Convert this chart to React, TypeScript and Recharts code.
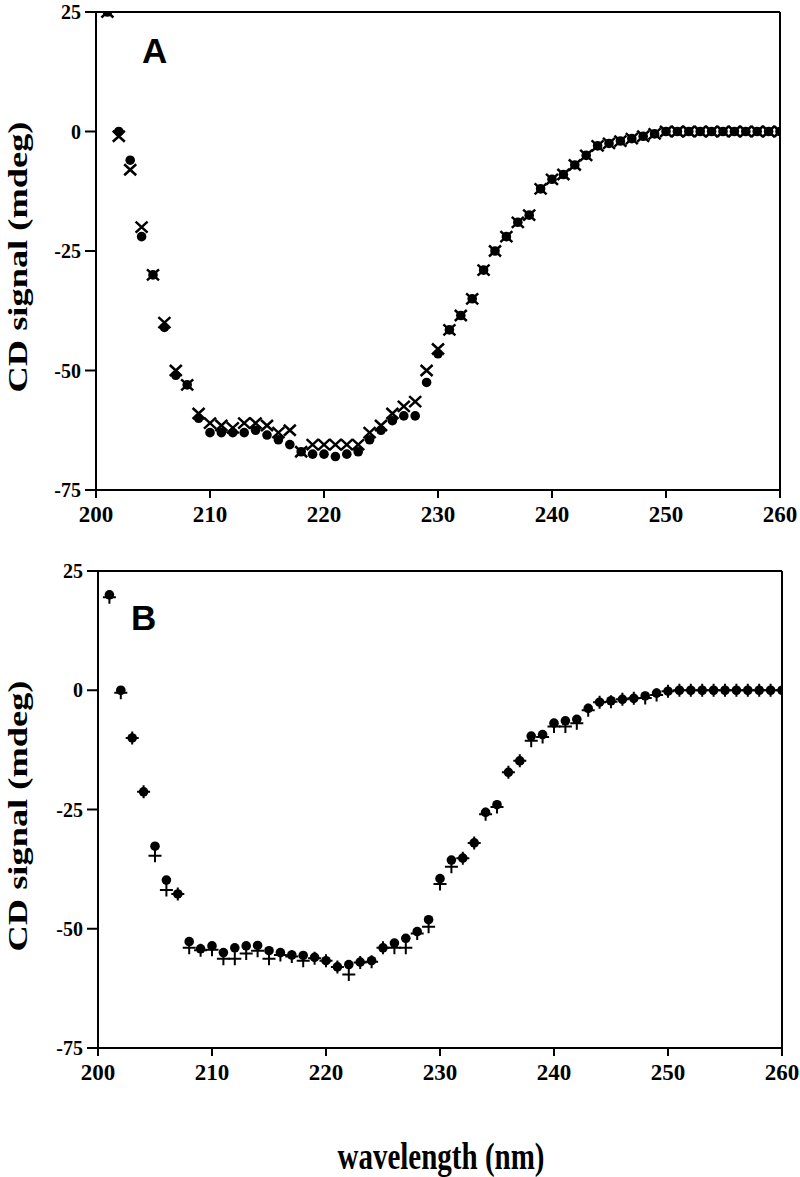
import { ScatterChart, Scatter, XAxis, YAxis, ReferenceLine } from "recharts";

// wavelength (nm) for every reading, both panels
const wavelengths = [
  201, 202, 203, 204, 205, 206, 207, 208, 209, 210,
  211, 212, 213, 214, 215, 216, 217, 218, 219, 220,
  221, 222, 223, 224, 225, 226, 227, 228, 229, 230,
  231, 232, 233, 234, 235, 236, 237, 238, 239, 240,
  241, 242, 243, 244, 245, 246, 247, 248, 249, 250,
  251, 252, 253, 254, 255, 256, 257, 258, 259, 260,
];

// panel A, filled circles
const aDots = [
  25, 0, -6, -22, -30, -41, -51, -53, -60, -63,
  -63, -63, -63, -62.5, -63.5, -64.5, -65.5, -67, -67.5, -67.5,
  -68, -67.5, -67, -64.5, -62.5, -60.5, -59.5, -59.5, -52.5, -46.5,
  -41.5, -38.5, -35, -29, -25, -22, -19, -17.5, -12, -10,
  -9, -7, -5, -3, -2.5, -2, -1.5, -1, -0.5, 0,
  0, 0, 0, 0, 0, 0, 0, 0, 0, 0,
];

// panel A, crosses
const aCrosses = [
  25, -1, -8, -20, -30, -40, -50, -53, -59, -61,
  -61.5, -62, -61, -61, -61.5, -63, -62.5, -67, -65.5, -65.5,
  -65.5, -65.5, -65.5, -63, -61.5, -59, -57.5, -56.5, -50, -45.5,
  -41.5, -38.5, -35, -29, -25, -22, -19, -17.5, -12, -10,
  -9, -7, -5, -3, -2.5, -2, -1.5, -1, -0.5, 0,
  0, 0, 0, 0, 0, 0, 0, 0, 0, 0,
];

// panel B, filled circles
const bDots = [
  20, 0, -10, -21.3, -32.7, -39.8, -42.7, -52.7, -54.2, -53.6,
  -55, -54, -53.6, -53.5, -54.6, -55, -55.5, -55.6, -56, -56.7,
  -58, -57.5, -57, -56.7, -54, -53, -52, -50.6, -48.1, -39.5,
  -35.6, -35.2, -32, -25.6, -24, -17.2, -14.8, -9.6, -9.3, -6.9,
  -6.4, -6.1, -3.8, -2.5, -2.2, -1.9, -1.7, -1.2, -0.6, -0.2,
  0, 0, 0, 0, 0, 0, 0, 0, 0, 0,
];

// panel B, plus signs
const bPluses = [
  19.5, -0.5, -10, -21.3, -34.7, -41.9, -42.7, -54, -54.5, -54.4,
  -56.3, -56.3, -55.2, -54.6, -56.3, -55.5, -55.8, -56.7, -56.2, -56.7,
  -58, -59.6, -57.1, -56.9, -54, -54, -54, -51, -49.6, -40.6,
  -37, -35.2, -32, -26, -24.5, -17.2, -14.8, -10.6, -9.8, -7.6,
  -7.6, -6.9, -4.2, -2.5, -2.4, -1.9, -1.7, -1.6, -1, -0.2,
  0, 0, 0, 0, 0, 0, 0, 0, 0, 0,
];

const xTicks = [200, 210, 220, 230, 240, 250, 260];
const yTicks = [-75, -50, -25, 0, 25];

const toPoints = (vals: number[]) => wavelengths.map((w, i) => ({ x: w, y: vals[i] }));

const serif = "'Liberation Serif', 'Times New Roman', serif";

const XTick = (p: any) => (
  <text x={p.x} y={p.y} dy="0.71em" textAnchor="middle" fontFamily={serif} fontWeight="bold" fontSize={23} fill="#000">
    {p.payload.value}
  </text>
);

const YTick = (p: any) => (
  <text x={p.x} y={p.y} dy="0.36em" textAnchor="end" fontFamily={serif} fontWeight="bold" fontSize={20} fill="#000">
    {p.payload.value}
  </text>
);

const Dot = (p: any) => <circle cx={p.cx} cy={p.cy} r={4.8} fill="#000" />;

const XMark = (p: any) => {
  const { cx, cy } = p;
  return (
    <path
      d={`M${cx - 6},${cy - 5.5}L${cx + 6},${cy + 5.5}M${cx - 6},${cy + 5.5}L${cx + 6},${cy - 5.5}`}
      stroke="#000"
      strokeWidth={2.5}
      fill="none"
    />
  );
};

const PlusMark = (p: any) => {
  const { cx, cy } = p;
  return (
    <path
      d={`M${cx - 6.5},${cy}L${cx + 6.5},${cy}M${cx},${cy - 6.5}L${cx},${cy + 6.5}`}
      stroke="#000"
      strokeWidth={2}
      fill="none"
    />
  );
};

function Panel({ dots, marks, Mark, margin }: any) {
  return (
    <ScatterChart width={800} height={560} margin={margin}>
      <XAxis
        type="number"
        dataKey="x"
        domain={[200, 260]}
        ticks={xTicks}
        allowDataOverflow
        height={30}
        tickSize={8}
        tickMargin={8}
        tick={XTick}
        axisLine={{ stroke: "#000", strokeWidth: 2 }}
        tickLine={{ stroke: "#000", strokeWidth: 2 }}
      />
      <YAxis
        type="number"
        dataKey="y"
        domain={[-75, 25]}
        ticks={yTicks}
        allowDataOverflow
        width={60}
        tickSize={11}
        tickMargin={4}
        tick={YTick}
        axisLine={{ stroke: "#000", strokeWidth: 2 }}
        tickLine={{ stroke: "#000", strokeWidth: 2 }}
      />
      <ReferenceLine y={25} stroke="#000" strokeWidth={2} />
      <ReferenceLine x={260} stroke="#000" strokeWidth={2} />
      <Scatter data={toPoints(dots)} shape={Dot} isAnimationActive={false} />
      <Scatter data={toPoints(marks)} shape={Mark} isAnimationActive={false} />
    </ScatterChart>
  );
}

export default function App() {
  return (
    <div style={{ position: "absolute", left: 0, top: 0, width: 800, height: 1177, background: "#fff" }}>
      <div style={{ position: "absolute", left: 0, top: 0 }}>
        <Panel dots={aDots} marks={aCrosses} Mark={XMark} margin={{ top: 12, right: 20, bottom: 40, left: 36 }} />
      </div>
      <div style={{ position: "absolute", left: 0, top: 560 }}>
        <Panel dots={bDots} marks={bPluses} Mark={PlusMark} margin={{ top: 11, right: 18, bottom: 42, left: 38 }} />
      </div>
      <svg width={800} height={1177} style={{ position: "absolute", left: 0, top: 0, pointerEvents: "none" }}>
        <text x={142} y={63} fontFamily="'Liberation Sans', Arial, sans-serif" fontWeight="bold" fontSize={35}>A</text>
        <text x={131} y={630} fontFamily="'Liberation Sans', Arial, sans-serif" fontWeight="bold" fontSize={35}>B</text>
        <text transform="translate(27,257) rotate(-90) scale(1.3,1)" textAnchor="middle" fontFamily={serif} fontWeight="bold" fontSize={28}>
          CD signal (mdeg)
        </text>
        <text transform="translate(27,816) rotate(-90) scale(1.3,1)" textAnchor="middle" fontFamily={serif} fontWeight="bold" fontSize={28}>
          CD signal (mdeg)
        </text>
        <text transform="translate(441,1169) scale(1,1.3)" textAnchor="middle" fontFamily={serif} fontWeight="bold" fontSize={29}>
          wavelength (nm)
        </text>
      </svg>
    </div>
  );
}
